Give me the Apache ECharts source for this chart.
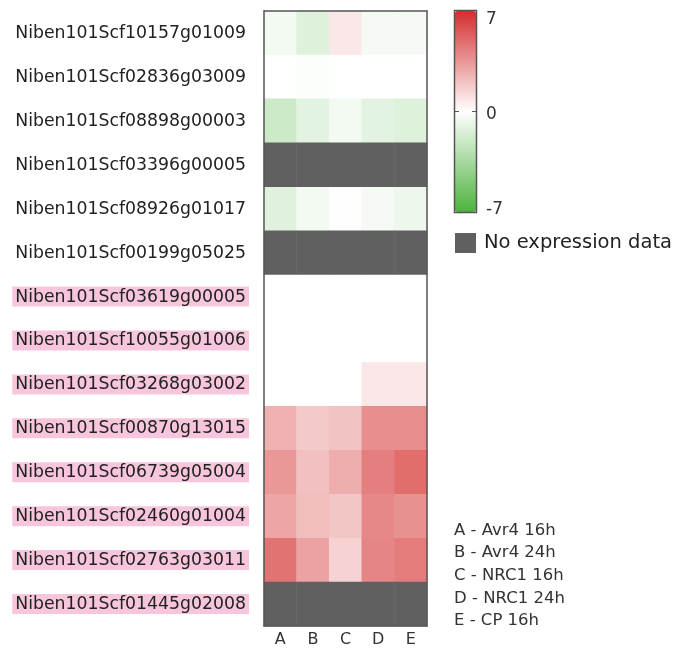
<!DOCTYPE html>
<html>
<head>
<meta charset="utf-8">
<script src="https://cdn.jsdelivr.net/npm/echarts@6/dist/echarts.min.js"></script>
<style>html,body{margin:0;padding:0;background:#fff;}#c{width:681px;height:653px;}</style>
</head>
<body>
<div id="c"></div>
<script>
var genes = [
  'Niben101Scf10157g01009','Niben101Scf02836g03009','Niben101Scf08898g00003','Niben101Scf03396g00005',
  'Niben101Scf08926g01017','Niben101Scf00199g05025','Niben101Scf03619g00005','Niben101Scf10055g01006',
  'Niben101Scf03268g03002','Niben101Scf00870g13015','Niben101Scf06739g05004','Niben101Scf02460g01004',
  'Niben101Scf02763g03011','Niben101Scf01445g02008'
];
var highlighted = [false,false,false,false,false,false,true,true,true,true,true,true,true,true];
var conditions = ['A','B','C','D','E'];
var conditionNames = ['A - Avr4 16h','B - Avr4 24h','C - NRC1 16h','D - NRC1 24h','E - CP 16h'];
var avr4_16h = [-0.5, 0.0, -2.0, null, -1.2, null, 0, 0, 0.0, 2.6, 3.5, 3.0, 4.7, null];
var avr4_24h = [-1.3,-0.1, -1.1, null, -0.5, null, 0, 0, 0.0, 1.8, 2.1, 2.2, 3.1, null];
var nrc1_16h = [ 0.8, 0.0, -0.5, null, -0.05,null, 0, 0, 0.0, 2.0, 2.7, 1.9, 1.5, null];
var nrc1_24h = [-0.4, 0.0, -1.1, null, -0.4, null, 0, 0, 0.8, 3.8, 4.3, 4.0, 4.1, null];
var cp_16h   = [-0.4, 0.0, -1.3, null, -0.7, null, 0, 0, 0.8, 3.8, 4.9, 3.7, 4.4, null];
var colorTicks = [7, 0, -7];

var columns = [avr4_16h, avr4_24h, nrc1_16h, nrc1_24h, cp_16h];
var valueData = [], missingData = [];
columns.forEach(function (col, xi) {
  col.forEach(function (v, yi) {
    if (v === null) missingData.push([xi, yi, 1]);
    else valueData.push([xi, yi, v]);
  });
});

var FONT = 'DejaVu Sans';
var cbTop = 11, cbHeight = 201, cbLeft = 455, cbWidth = 21;
var graphics = colorTicks.map(function (t) {
  return {
    type: 'text', left: cbLeft + cbWidth + 10,
    top: 18 + (7 - t) / 14 * 190 - 7,
    style: { text: String(t), font: '17px "' + FONT + '"', fill: '#333' }
  };
});
var midY = cbTop + cbHeight / 2;
graphics.push({ type: 'rect', shape: { x: cbLeft - 0.5, y: cbTop - 0.5, width: cbWidth + 1, height: cbHeight + 1 }, style: { fill: 'rgba(0,0,0,0)', stroke: '#555', lineWidth: 1.5 }, z: 100, zlevel: 1 });
graphics.push({ type: 'line', shape: { x1: cbLeft, y1: midY, x2: cbLeft + 4, y2: midY }, style: { stroke: '#555', lineWidth: 1 }, z: 100, zlevel: 1 });
graphics.push({ type: 'line', shape: { x1: cbLeft + cbWidth - 4, y1: midY, x2: cbLeft + cbWidth, y2: midY }, style: { stroke: '#555', lineWidth: 1 }, z: 100, zlevel: 1 });

var frameAxis = { lineStyle: { color: '#555', width: 1.5 } };
var chart = echarts.init(document.getElementById('c'));
chart.setOption({
  animation: false,
  textStyle: { fontFamily: FONT },
  grid: { left: 264, right: 254, top: 11, bottom: 27 },
  xAxis: [{
    type: 'category', data: conditions, z: 10,
    axisLine: frameAxis,
    axisTick: { alignWithLabel: true, length: 5, lineStyle: { color: '#444' } },
    axisLabel: { fontSize: 16, color: '#333', margin: 6, fontFamily: FONT },
    splitLine: { show: false }
  }, {
    type: 'category', data: conditions, position: 'top', z: 10,
    axisLine: frameAxis, axisTick: { show: false }, axisLabel: { show: false }, splitLine: { show: false }
  }],
  yAxis: [{
    type: 'category', data: genes, inverse: true, z: 10,
    axisLine: frameAxis,
    axisTick: { alignWithLabel: true, length: 5, lineStyle: { color: '#444' } },
    axisLabel: {
      margin: 15,
      formatter: function (v, i) { return (highlighted[i] ? '{hl|' : '{n|') + v + '}'; },
      rich: {
        hl: { fontSize: 17.3, color: '#222', fontFamily: FONT, backgroundColor: '#f8c6dc', padding: [2, 3, 1, 3] },
        n: { fontSize: 17.3, color: '#222', fontFamily: FONT, padding: [2, 3, 1, 3] }
      }
    },
    splitLine: { show: false }
  }, {
    type: 'category', data: genes, inverse: true, position: 'right', z: 10,
    axisLine: frameAxis, axisTick: { show: false }, axisLabel: { show: false }, splitLine: { show: false }
  }],
  visualMap: {
    type: 'continuous', min: -7, max: 7, seriesIndex: 0,
    calculable: false, left: cbLeft, top: cbTop, itemWidth: cbWidth, itemHeight: cbHeight,
    padding: 0, text: null, hoverLink: false,
    inRange: { color: ['#4db33d', '#ffffff', '#d42e2e'] }
  },
  legend: {
    data: [{ name: 'No expression data', icon: 'rect' }],
    left: cbLeft, top: 233, padding: 0, itemWidth: 21, itemHeight: 20, selectedMode: false,
    textStyle: { fontSize: 19.5, color: '#222', fontFamily: FONT, padding: [0, 0, 0, 3] }
  },
  title: {
    text: conditionNames.join('\n'), left: cbLeft - 1, top: 519, padding: 0,
    textStyle: { fontSize: 16.5, fontWeight: 'normal', color: '#333', lineHeight: 22.7, fontFamily: FONT }
  },
  graphic: graphics,
  series: [
    { name: 'Expression', type: 'heatmap', data: valueData, itemStyle: { borderWidth: 0 } },
    { name: 'No expression data', type: 'heatmap', data: missingData, itemStyle: { color: '#606060', borderWidth: 0 } }
  ]
});
</script>
</body>
</html>
